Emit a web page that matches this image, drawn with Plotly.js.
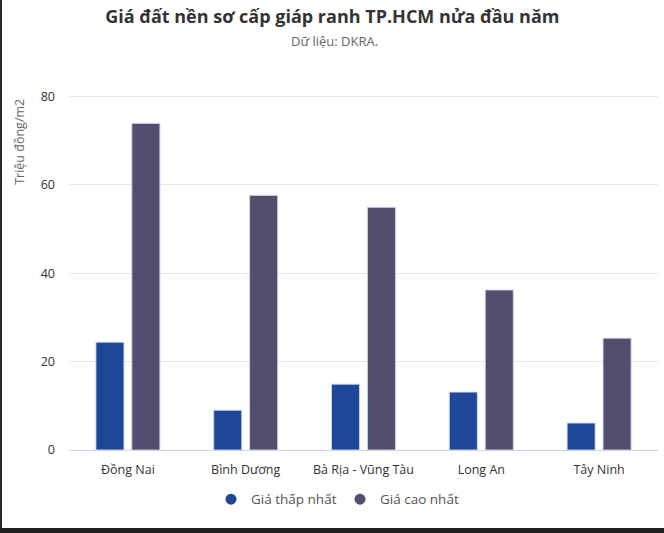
<!DOCTYPE html>
<html>
<head>
<meta charset="utf-8">
<script src="https://cdn.plot.ly/plotly-3.0.1.min.js"></script>
<style>
  html, body { margin: 0; padding: 0; background: #ffffff; overflow: hidden; }
  #chart { position: absolute; left: 0; top: 0; width: 664px; height: 533px; }
  #leftEdge { position: absolute; left: 0; top: 0; width: 2px; height: 533px; background: #2a2a2a; }
  #bottomBar { position: absolute; left: 0; top: 528px; width: 664px; height: 5px; background: #1e1e1e; }
</style>
</head>
<body>
<div id="chart"></div>
<div id="leftEdge"></div>
<div id="bottomBar"></div>
<script>
const categories = ["Đồng Nai", "Bình Dương", "Bà Rịa - Vũng Tàu", "Long An", "Tây Ninh"];
const giaThapNhat = [24.4, 9.0, 14.9, 13.1, 6.1];
const giaCaoNhat = [73.9, 57.6, 54.9, 36.2, 25.3];
const seriesNames = ["Giá thấp nhất", "Giá cao nhất"];
const seriesColors = ["#1f4798", "#544e6e"];
const yTicks = [0, 20, 40, 60, 80];

const fontFamily = "'Open Sans', 'Noto Sans', sans-serif";

const traces = [
  {
    type: "bar", x: categories, y: giaThapNhat, name: seriesNames[0],
    marker: { color: seriesColors[0], line: { color: "rgba(205,215,235,0.9)", width: 1 } },
    showlegend: false, hoverinfo: "x+y"
  },
  {
    type: "bar", x: categories, y: giaCaoNhat, name: seriesNames[1],
    marker: { color: seriesColors[1], line: { color: "rgba(205,210,230,0.9)", width: 1 } },
    showlegend: false, hoverinfo: "x+y"
  },
  {
    type: "scatter", mode: "markers", x: [null], y: [null], name: seriesNames[0],
    marker: { color: seriesColors[0], size: 11, symbol: "circle" }, showlegend: true
  },
  {
    type: "scatter", mode: "markers", x: [null], y: [null], name: seriesNames[1],
    marker: { color: seriesColors[1], size: 11, symbol: "circle" }, showlegend: true
  }
];

const layout = {
  width: 664, height: 533,
  margin: { l: 69, r: 6, t: 92, b: 82.5 },
  paper_bgcolor: "#ffffff", plot_bgcolor: "#ffffff",
  font: { family: fontFamily, color: "#333333", size: 12 },
  barmode: "group", bargap: 0.39, bargroupgap: 0.22,
  title: {
    text: "<b>Giá đất nền sơ cấp giáp ranh TP.HCM nửa đầu năm</b>",
    font: { family: fontFamily, size: 18, color: "#333333" },
    x: 0.5005, xanchor: "center", xref: "container",
    y: 1 - 17 / 533, yanchor: "middle", yref: "container"
  },
  annotations: [
    {
      text: "Dữ liệu: DKRA.", xref: "paper", yref: "paper",
      x: (334 - 69) / 589, y: (450.5 - 41) / 358.4, xanchor: "center", yanchor: "middle",
      showarrow: false, font: { family: fontFamily, size: 13, color: "#666666" }
    },
    {
      text: "Triệu đồng/m2", xref: "paper", yref: "paper", textangle: -90,
      x: (20 - 69) / 589, y: (450.5 - 142) / 358.4, xanchor: "center", yanchor: "middle",
      showarrow: false, font: { family: fontFamily, size: 12.5, color: "#666666" }
    }
  ],
  xaxis: {
    type: "category", categoryarray: categories,
    showgrid: false, showline: true, linecolor: "#ccd6eb", linewidth: 1,
    ticks: "", tickfont: { family: fontFamily, size: 12.5, color: "#333333" },
    ticklabelstandoff: 8, fixedrange: true
  },
  yaxis: {
    range: [0, 81], tickvals: yTicks, ticktext: yTicks.map(String),
    showgrid: true, gridcolor: "#e6e6e6", gridwidth: 1,
    zeroline: false, showline: false,
    tickfont: { family: fontFamily, size: 12.5, color: "#333333" },
    ticklabelstandoff: 13, fixedrange: true
  },
  legend: {
    orientation: "h", x: (340 - 69) / 589, xanchor: "center",
    y: (450.5 - 500) / 358.4, yanchor: "middle",
    font: { family: fontFamily, size: 13.5, color: "#555555" },
    itemwidth: 30, tracegroupgap: 0, entrywidth: 84
  },
  showlegend: true
};

Plotly.newPlot("chart", traces, layout, { displayModeBar: false, staticPlot: true });
</script>
</body>
</html>
